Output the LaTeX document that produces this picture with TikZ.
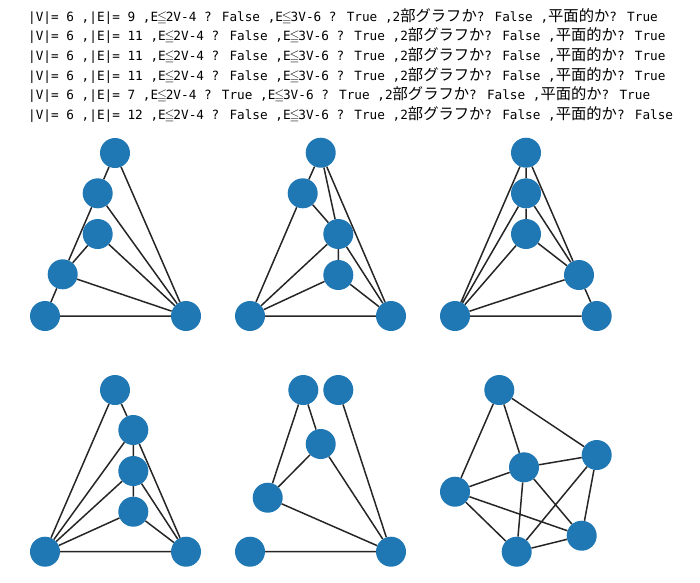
\documentclass[tikz,border=0pt]{standalone}
\usepackage{amssymb}
\usepackage{fontspec}
\newfontfamily\monofont{DejaVu Sans Mono}
\newfontfamily\jpfont{Noto Sans CJK JP}
\newcommand{\jp}[1]{{\jpfont\fontsize{15.3}{18}\selectfont #1}}
\newcommand{\leqqc}{\makebox[7.65pt]{$\leqq$}}
\definecolor{mplblue}{HTML}{1F77B4}

\begin{document}
\begin{tikzpicture}[x=1pt,y=-1pt,
  vtx/.style={circle,fill=mplblue,minimum size=30pt,inner sep=0pt},
  edge/.style={black!85,line width=1.5pt},
  txt/.style={anchor=base west,inner sep=0pt,font=\monofont\fontsize{12.7}{15}\selectfont}]
\useasboundingbox (0,0) rectangle (700,582);
% result lines
\node[txt] (l1) at (28,21.0) {|V|= 6 ,|E|= 9 ,E\leqqc 2V-4 ? False ,E\leqqc 3V-6 ? True ,2\jp{部グラフか}? False ,\jp{平面的か}? True};
\node[txt] (l2) at (28,40.7) {|V|= 6 ,|E|= 11 ,E\leqqc 2V-4 ? False ,E\leqqc 3V-6 ? True ,2\jp{部グラフか}? False ,\jp{平面的か}? True};
\node[txt] (l3) at (28,60.4) {|V|= 6 ,|E|= 11 ,E\leqqc 2V-4 ? False ,E\leqqc 3V-6 ? True ,2\jp{部グラフか}? False ,\jp{平面的か}? True};
\node[txt] (l4) at (28,80.1) {|V|= 6 ,|E|= 11 ,E\leqqc 2V-4 ? False ,E\leqqc 3V-6 ? True ,2\jp{部グラフか}? False ,\jp{平面的か}? True};
\node[txt] (l5) at (28,99.8) {|V|= 6 ,|E|= 7 ,E\leqqc 2V-4 ? True ,E\leqqc 3V-6 ? True ,2\jp{部グラフか}? False ,\jp{平面的か}? True};
\node[txt] (l6) at (28,119.5) {|V|= 6 ,|E|= 12 ,E\leqqc 2V-4 ? False ,E\leqqc 3V-6 ? True ,2\jp{部グラフか}? False ,\jp{平面的か}? False};

% graph 1
\node[vtx] (a1) at (115,153) {};
\node[vtx] (a2) at (97.7,193.3) {};
\node[vtx] (a3) at (97.7,234) {};
\node[vtx] (a4) at (62.7,274.3) {};
\node[vtx] (a5) at (45,316) {};
\node[vtx] (a6) at (186,316) {};
\draw[edge] (a1)--(a2) (a1)--(a6) (a2)--(a4) (a2)--(a6) (a3)--(a4)
  (a3)--(a6) (a4)--(a5) (a4)--(a6) (a5)--(a6);

% graph 2
\node[vtx] (b1) at (320.7,152.7) {};
\node[vtx] (b2) at (302.7,193.3) {};
\node[vtx] (b3) at (338.3,234) {};
\node[vtx] (b4) at (338.3,275) {};
\node[vtx] (b5) at (250,316) {};
\node[vtx] (b6) at (391,316) {};
\draw[edge] (b1)--(b2) (b1)--(b3) (b1)--(b6) (b2)--(b5) (b2)--(b3) (b3)--(b4)
  (b3)--(b5) (b3)--(b6) (b4)--(b5) (b4)--(b6) (b5)--(b6);

% graph 3
\node[vtx] (c1) at (526,152.7) {};
\node[vtx] (c2) at (526,193.3) {};
\node[vtx] (c3) at (526,234) {};
\node[vtx] (c4) at (579,275) {};
\node[vtx] (c5) at (455,316) {};
\node[vtx] (c6) at (596.7,316) {};
\draw[edge] (c1)--(c2) (c1)--(c5) (c1)--(c4) (c2)--(c3) (c2)--(c5) (c2)--(c4)
  (c3)--(c5) (c3)--(c4) (c4)--(c5) (c4)--(c6) (c5)--(c6);

% graph 4
\node[vtx] (d1) at (115,390) {};
\node[vtx] (d2) at (133.3,430) {};
\node[vtx] (d3) at (133.3,471) {};
\node[vtx] (d4) at (133.3,511.7) {};
\node[vtx] (d5) at (45,551.7) {};
\node[vtx] (d6) at (186,551.7) {};
\draw[edge] (d1)--(d5) (d1)--(d2) (d2)--(d3) (d2)--(d5) (d2)--(d6) (d3)--(d4)
  (d3)--(d5) (d3)--(d6) (d4)--(d5) (d4)--(d6) (d5)--(d6);

% graph 5
\node[vtx] (e1) at (303.3,390) {};
\node[vtx] (e2) at (338.3,390) {};
\node[vtx] (e3) at (320.7,444) {};
\node[vtx] (e4) at (267.7,497.7) {};
\node[vtx] (e5) at (250,551.7) {};
\node[vtx] (e6) at (391,551.7) {};
\draw[edge] (e1)--(e4) (e1)--(e3) (e3)--(e4) (e3)--(e6) (e4)--(e6) (e2)--(e6)
  (e5)--(e6);

% graph 6
\node[vtx] (f1) at (499.3,390) {};
\node[vtx] (f2) at (596.7,455) {};
\node[vtx] (f3) at (524,467.3) {};
\node[vtx] (f4) at (455,491.7) {};
\node[vtx] (f5) at (581.7,535.7) {};
\node[vtx] (f6) at (516.7,551.7) {};
\draw[edge] (f1)--(f2) (f1)--(f3) (f1)--(f4) (f3)--(f2) (f3)--(f4) (f3)--(f6)
  (f3)--(f5) (f4)--(f5) (f4)--(f6) (f6)--(f5) (f6)--(f2) (f2)--(f5);
\end{tikzpicture}
\end{document}
